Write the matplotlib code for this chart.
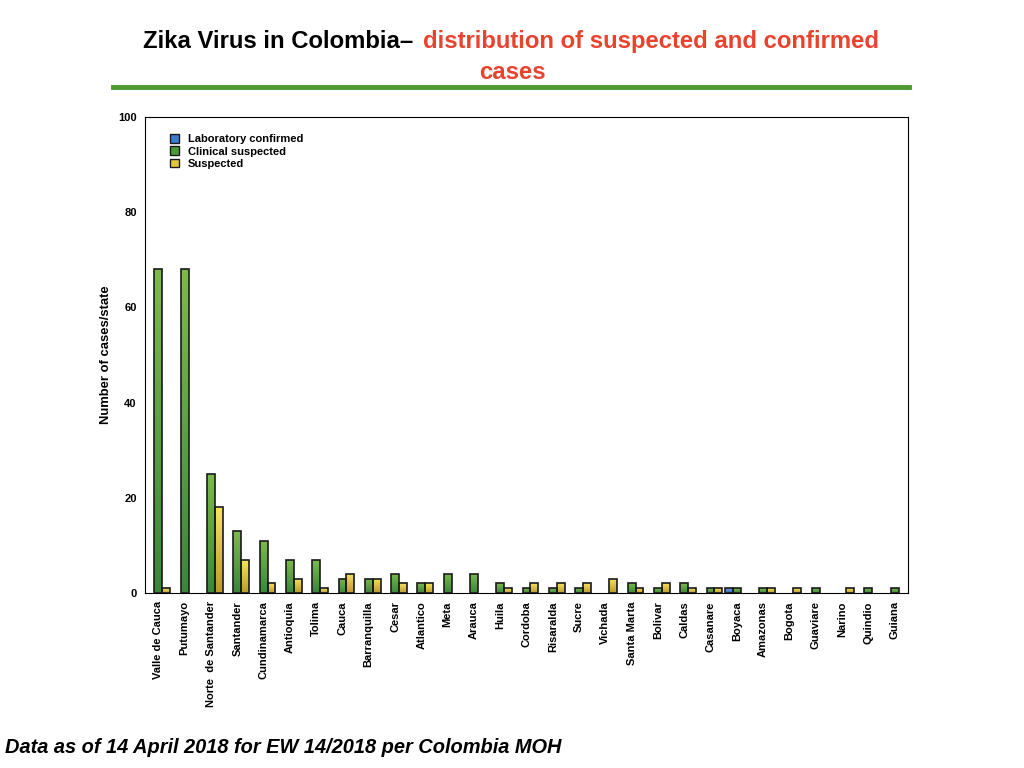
import numpy as np
import matplotlib
matplotlib.use('Agg')
import matplotlib.pyplot as plt
from matplotlib.patches import Patch
from matplotlib.colors import LinearSegmentedColormap

plt.rcParams['font.family'] = ['Liberation Sans', 'DejaVu Sans']

# %% data
states = ['Valle de Cauca', 'Putumayo', 'Norte  de Santander', 'Santander', 'Cundinamarca',
          'Antioquia', 'Tolima', 'Cauca', 'Barranquilla', 'Cesar', 'Atlantico', 'Meta',
          'Arauca', 'Huila', 'Cordoba', 'Risaralda', 'Sucre', 'Vichada', 'Santa Marta',
          'Bolivar', 'Caldas', 'Casanare', 'Boyaca', 'Amazonas', 'Bogota', 'Guaviare',
          'Narino', 'Quindio', 'Guiana']
lab_confirmed = [0, 0, 0, 0, 0, 0, 0, 0, 0, 0, 0, 0, 0, 0, 0, 0, 0, 0, 0,
                 0, 0, 0, 1, 0, 0, 0, 0, 0, 0]
clinical = [68, 68, 25, 13, 11, 7, 7, 3, 3, 4, 2, 4, 4, 2, 1, 1, 1, 0, 2,
            1, 2, 1, 1, 1, 0, 1, 0, 1, 1]
suspected = [1, 0, 18, 7, 2, 3, 1, 4, 3, 2, 2, 0, 0, 1, 2, 2, 2, 3, 1,
             2, 1, 1, 0, 1, 1, 0, 1, 0, 0]

# %%
fig = plt.figure(figsize=(10.24, 7.68), dpi=100)
ax = fig.add_axes([0.1416, 0.2279, 0.7451, 0.6198])

x = np.arange(len(states))
w = 0.3
series = [(lab_confirmed, -w, ['#6fa3e8', '#2f66c0'], '#3b7bd0', 'Laboratory confirmed'),
          (clinical, 0, ['#7cba4c', '#3a873a'], '#4c9a3a', 'Clinical suspected'),
          (suspected, w, ['#f8e45a', '#bb9a30'], '#e2c540', 'Suspected')]

grad = np.linspace(0, 1, 64).reshape(-1, 1)
handles = []
for vals, off, cols, solid, lab in series:
    cmap = LinearSegmentedColormap.from_list(lab, cols)
    bars = ax.bar(x + off, vals, w, color='none', edgecolor='#1a1a1a', linewidth=1.2, zorder=3)
    for b, v in zip(bars, vals):
        if v == 0:
            b.set_visible(False)
            continue
        x0, y0 = b.get_x(), b.get_y()
        im = ax.imshow(grad, cmap=cmap, aspect='auto', origin='upper',
                       extent=[x0, x0 + b.get_width(), y0, y0 + b.get_height()], zorder=2)
        im.set_clip_path(b)
    handles.append(Patch(facecolor=solid, edgecolor='#1a1a1a', label=lab))

ax.set_xlim(-0.51, len(states) - 0.49)
ax.set_ylim(0, 100)
ax.set_yticks(range(0, 101, 20))
ax.set_xticks(x)
ax.set_xticklabels(states, rotation=90, fontsize=8, fontweight='bold')
for t in ax.get_yticklabels():
    t.set_fontweight('bold')
    t.set_fontsize(8)
ax.tick_params(length=0, pad=6)
ax.set_ylabel('Number of cases/state', fontsize=9.4, fontweight='bold', labelpad=4)

leg = ax.legend(handles=handles, loc='upper left', bbox_to_anchor=(0.02, 0.985), frameon=False,
                prop={'weight': 'bold', 'size': 8}, handlelength=0.8, handleheight=0.8,
                handletextpad=0.8, labelspacing=0.2)

# title
fig.text(0.14, 0.946, 'Zika Virus in Colombia\u2013', fontsize=17.2, fontweight='bold',
         color='black', ha='left', va='center')
fig.text(0.413, 0.946, 'distribution of suspected and confirmed', fontsize=17.2,
         fontweight='bold', color='#e8432e', ha='left', va='center')
fig.text(0.5, 0.905, 'cases', fontsize=17.2, fontweight='bold', color='#e8432e',
         ha='center', va='center')
fig.add_artist(plt.Line2D([0.11, 0.888], [0.887, 0.887], color='#4a9a30', linewidth=3.5))

fig.text(0.005, 0.027, 'Data as of 14 April 2018 for EW 14/2018 per Colombia MOH',
         fontsize=14.4, fontweight='bold', fontstyle='italic', ha='left', va='center')

fig.savefig('out.png', dpi=100)
